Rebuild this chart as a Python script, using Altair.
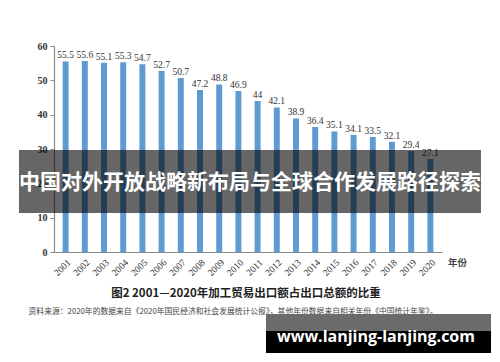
import altair as alt
import pandas as pd

years = [str(y) for y in range(2001, 2021)]
values = [55.5, 55.6, 55.1, 55.3, 54.7, 52.7, 50.7, 47.2, 48.8, 46.9,
          44, 42.1, 38.9, 36.4, 35.1, 34.1, 33.5, 32.1, 29.4, 27.1]
labels = ["55.5", "55.6", "55.1", "55.3", "54.7", "52.7", "50.7", "47.2", "48.8", "46.9",
          "44", "42.1", "38.9", "36.4", "35.1", "34.1", "33.5", "32.1", "29.4", "27.1"]
y_ticks = [0, 10, 20, 30, 40, 50, 60]

banner_title = "中国对外开放战略新布局与全球合作发展路径探索"
caption = "图2  2001—2020年加工贸易出口额占出口总额的比重"
source_note = "资料来源：2020年的数据来自《2020年国民经济和社会发展统计公报》，其他年份数据来自相关年份《中国统计年鉴》。"
watermark = "www.lanjing-lanjing.com"
x_unit = "年份"

df = pd.DataFrame({"year": years, "value": values, "label": labels})
one = pd.DataFrame({"k": [0]})

W, H = 388, 206
SERIF = "Liberation Serif"
CJK = "Noto Sans CJK SC"

x = alt.X("year:N", sort=years,
          scale=alt.Scale(paddingInner=0.69, paddingOuter=0.45),
          axis=alt.Axis(title=None, labelAngle=315, labelFont=SERIF, labelFontSize=9.5,
                        labelColor="#333", ticks=False, domainColor="#8a8a8a",
                        labelPadding=5, domainWidth=1.2))
y = alt.Y("value:Q", scale=alt.Scale(domain=[0, 60], nice=False),
          axis=alt.Axis(title=None, values=y_ticks, tickCount=7, labelFont=SERIF,
                        labelFontSize=10, labelFontWeight="bold", labelColor="#333",
                        labelOverlap=False, labelFlush=False,
                        tickSize=4, tickColor="#8a8a8a", domainColor="#8a8a8a",
                        domainWidth=1.2, labelPadding=3, grid=False))

bars = alt.Chart(df).mark_bar(color="#5e9bd2").encode(x=x, y=y)
vals = alt.Chart(df).mark_text(font=SERIF, fontSize=9.5, color="#333", baseline="bottom",
                               dy=-1).encode(x=x, y=y, text="label:N")

unit = alt.Chart(one).mark_text(font=CJK, fontSize=9.5, color="#444", align="left",
                                baseline="middle", fontWeight="bold").encode(
    x=alt.value(W + 6), y=alt.value(H + 11), text=alt.value(x_unit))

band = alt.Chart(one).mark_rect(color="black", opacity=0.6).encode(
    x=alt.value(-35), x2=alt.value(427), y=alt.value(104), y2=alt.value(167))
band_text = alt.Chart(one).mark_text(font=CJK, fontSize=21, fontWeight="bold", color="white",
                                     align="center", baseline="middle").encode(
    x=alt.value(196), y=alt.value(137), text=alt.value(banner_title))

cap = alt.Chart(one).mark_text(font=CJK, fontSize=11.5, fontWeight="bold", color="#222",
                               align="center", baseline="middle").encode(
    x=alt.value(192), y=alt.value(248), text=alt.value(caption))
src = alt.Chart(one).mark_text(font=CJK, fontSize=7.8, color="#444",
                               align="center", baseline="middle").encode(
    x=alt.value(179), y=alt.value(266), text=alt.value(source_note))

wm_gray = alt.Chart(one).mark_rect(color="#6b6b6b").encode(
    x=alt.value(212), x2=alt.value(437), y=alt.value(268), y2=alt.value(285))
wm_black = alt.Chart(one).mark_rect(color="black").encode(
    x=alt.value(212), x2=alt.value(437), y=alt.value(285), y2=alt.value(307))
wm_text = alt.Chart(one).mark_text(font="Open Sans", fontSize=16, fontWeight="bold",
                                   color="white", align="center", baseline="middle").encode(
    x=alt.value(322), y=alt.value(291), text=alt.value(watermark))

chart = alt.layer(bars, vals, unit, band, band_text, cap, src, wm_gray, wm_black, wm_text).properties(
    width=W, height=H,
    padding={"left": 46, "top": 38, "right": 50, "bottom": 102},
    autosize=alt.AutoSizeParams(type="none"),
    background="white",
).configure_view(stroke=None)

chart.save("out.html", embed_options={"renderer": "svg", "actions": False})
